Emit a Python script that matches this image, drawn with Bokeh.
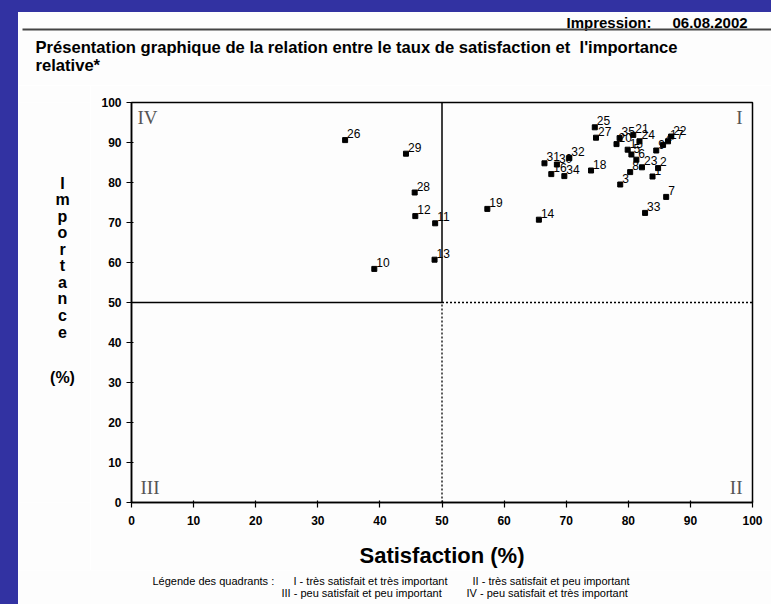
from bokeh.plotting import figure
from bokeh.models import Label, Div, ColumnDataSource, FixedTicker
from bokeh.layouts import column, row
from bokeh.embed import file_html
from bokeh.resources import INLINE
from bokeh.core.properties import value

# ---------------- data ----------------
ids = [str(i) for i in range(1, 36)]
satisfaction = [83.9, 84.8, 78.7, 85.6, 80.5, 81.3, 86.1, 80.3, 84.5, 39.1,
                48.9, 45.7, 48.8, 65.6, 79.9, 67.6, 86.4, 74.0, 57.3, 78.1,
                80.8, 86.9, 82.2, 81.8, 74.6, 34.4, 74.8, 45.6, 44.2, 68.5,
                66.5, 70.5, 82.7, 69.7, 78.6]
importance = [81.5, 83.6, 79.5, 89.4, 87.0, 85.7, 76.4, 82.6, 88.0, 58.4,
              69.8, 71.6, 60.7, 70.7, 88.2, 82.1, 90.3, 83.0, 73.4, 89.6,
              91.9, 91.5, 83.8, 90.3, 93.8, 90.6, 91.2, 77.5, 87.2, 84.5,
              84.8, 86.1, 72.4, 81.6, 91.1]
x_ticks = [0, 10, 20, 30, 40, 50, 60, 70, 80, 90, 100]
y_ticks = [0, 10, 20, 30, 40, 50, 60, 70, 80, 90, 100]
threshold = 50
quadrant_names = ["IV", "I", "III", "II"]

header_left = "Impression:"
header_right = "06.08.2002"
title_line1 = "Présentation graphique de la relation entre le taux de satisfaction et\u00a0 l'importance"
title_line2 = "relative*"
y_title_letters = list("Importance")
y_title_unit = "(%)"
x_title = "Satisfaction (%)"
legend_parts = ["Légende des quadrants :",
                "I - très satisfait et très important",
                "II - très satisfait et peu important",
                "III - peu satisfait et peu important",
                "IV - peu satisfait et très important"]

BLUE = "#3232a2"
PAPER = "#fdfdfd"
SANS = "Liberation Sans"

# page geometry (page starts at 0,0)
BAND_L, BAND_T = 18, 12
CW = 771 - BAND_L           # content width
HEAD_H, MID_H = 73, 485
FOOT_H = 604 - BAND_T - HEAD_H - MID_H
LEFT_W = 72
MID_Y0 = BAND_T + HEAD_H    # page y of middle row


def blank(w, h):
    f = figure(width=w, height=h, x_range=(0, w), y_range=(h, 0),
               output_backend="svg", toolbar_location=None, min_border=0,
               x_axis_type=None, y_axis_type=None,
               background_fill_color=PAPER, border_fill_color=PAPER)
    f.outline_line_color = None
    f.grid.visible = False
    return f


# ---------------- header ----------------
head = blank(CW, HEAD_H)
head.text(x=[566 - BAND_L, 672 - BAND_L], y=[22 - BAND_T, 22 - BAND_T],
          text=[header_left, header_right],
          text_font=value(SANS), text_font_style="bold", text_font_size="15px",
          text_baseline="alphabetic", text_color="black")
head.segment(x0=[22 - BAND_L], y0=[29 - BAND_T], x1=[CW], y1=[29 - BAND_T],
             line_color="#444444", line_width=2)
head.text(x=[35 - BAND_L, 35 - BAND_L], y=[47 - BAND_T, 65 - BAND_T],
          text=[title_line1, title_line2],
          text_font=value(SANS), text_font_style="bold", text_font_size="16.6px",
          text_baseline="middle", text_color="black")

# ---------------- left (vertical y title) ----------------
left = blank(LEFT_W, MID_H)
ly = [183 + i * 20 - MID_Y0 for i in range(len(y_title_letters))]
left.text(x=[62 - BAND_L] * len(ly), y=ly, text=y_title_letters,
          text_font=value(SANS), text_font_style="bold", text_font_size="16px",
          text_baseline="middle", text_align="center", text_color="black")
left.text(x=[62 - BAND_L], y=[418 - MID_Y0], text=[y_title_unit],
          text_font=value(SANS), text_font_style="bold", text_font_size="16px",
          text_baseline="middle", text_align="center", text_color="black")

# ---------------- main chart ----------------
FL, FR, FT, FB = 131, 752, 102, 502   # page position of the frame
MW = CW - LEFT_W
p = figure(width=MW, height=MID_H, x_range=(0, 100), y_range=(0, 100),
           output_backend="svg", toolbar_location=None,
           min_border_left=FL - BAND_L - LEFT_W, min_border_right=771 - FR,
           min_border_top=FT - MID_Y0, min_border_bottom=MID_Y0 + MID_H - FB,
           background_fill_color=PAPER, border_fill_color=PAPER)
p.grid.visible = False
p.outline_line_color = "black"
p.outline_line_width = 1.5

for ax, ticks in ((p.xaxis[0], x_ticks), (p.yaxis[0], y_ticks)):
    ax.ticker = FixedTicker(ticks=ticks)
    ax.major_label_text_font = SANS
    ax.major_label_text_font_style = "bold"
    ax.major_label_text_font_size = "12px"
    ax.major_label_text_color = "black"
    ax.axis_line_color = "black"
    ax.axis_line_width = 1.5
    ax.major_tick_line_color = "black"
    ax.major_tick_line_width = 1.2
    ax.major_tick_out = 5
    ax.major_tick_in = 2
    ax.minor_tick_line_color = None
p.xaxis.major_label_standoff = 8
p.yaxis.major_label_standoff = 5

p.xaxis.axis_label = x_title
p.xaxis.axis_label_text_font = SANS
p.xaxis.axis_label_text_font_style = "bold"
p.xaxis.axis_label_text_font_size = "22px"
p.xaxis.axis_label_text_color = "black"
p.xaxis.axis_label_standoff = 15

# quadrant dividers
p.segment(x0=[threshold], y0=[threshold], x1=[threshold], y1=[100], line_color="black", line_width=1.5)
p.segment(x0=[0], y0=[threshold], x1=[threshold], y1=[threshold], line_color="black", line_width=1.5)
p.segment(x0=[threshold], y0=[0], x1=[threshold], y1=[threshold], line_color="black", line_width=1.3, line_dash="2 2")
p.segment(x0=[threshold], y0=[threshold], x1=[100], y1=[threshold], line_color="black", line_width=1.3, line_dash="2 2")

src = ColumnDataSource(dict(x=satisfaction, y=importance, id=ids))
p.scatter("x", "y", source=src, marker="square", size=5, color="black")
p.text("x", "y", text="id", source=src, x_offset=2, y_offset=-2,
       text_font=value(SANS), text_font_size="12px",
       text_baseline="bottom", text_align="left", text_color="black")

# quadrant labels (screen units, relative to the frame)
qpos = [(137, 117, "left"), (742, 117, "right"), (140, 487, "left"), (742, 487, "right")]
for name, (qx, qy, al) in zip(quadrant_names, qpos):
    p.add_layout(Label(x=qx - FL, y=FB - qy, x_units="screen", y_units="screen",
                       text=name, text_font="Liberation Serif", text_font_size="19px",
                       text_align=al, text_baseline="middle", text_color="#555555"))

# ---------------- footer ----------------
foot = blank(CW, FOOT_H)
lpos = [(152, 580), (293, 580), (472, 580), (281, 592), (466, 592)]
foot.text(x=[lx - BAND_L for lx, _ in lpos], y=[ly_ - MID_Y0 - MID_H for _, ly_ in lpos],
          text=legend_parts, text_font=value(SANS), text_font_size="11px",
          text_baseline="middle", text_align="left", text_color="black")

top_band = Div(text="", width=771, height=BAND_T, margin=0,
               styles={"background-color": BLUE})
left_band = Div(text="", width=BAND_L, height=604 - BAND_T, margin=0,
                styles={"background-color": BLUE})
content = column(head, row(left, p, spacing=0), foot, spacing=0)
layout = column(top_band, row(left_band, content, spacing=0), spacing=0)

open("out.html", "w").write(file_html(layout, INLINE))
